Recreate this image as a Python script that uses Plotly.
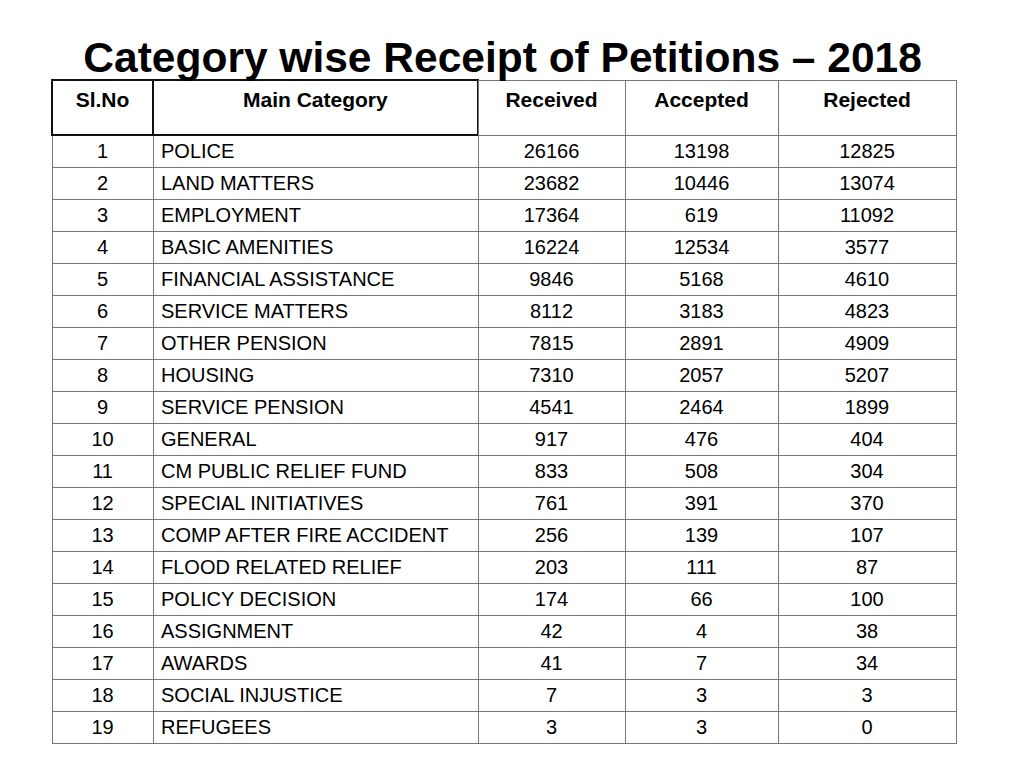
import plotly.graph_objects as go

SL_NO = list(range(1, 20))
CATEGORIES = [
    "POLICE", "LAND MATTERS", "EMPLOYMENT", "BASIC AMENITIES",
    "FINANCIAL ASSISTANCE", "SERVICE MATTERS", "OTHER PENSION", "HOUSING",
    "SERVICE PENSION", "GENERAL", "CM PUBLIC RELIEF FUND",
    "SPECIAL INITIATIVES", "COMP AFTER FIRE ACCIDENT", "FLOOD RELATED RELIEF",
    "POLICY DECISION", "ASSIGNMENT", "AWARDS", "SOCIAL INJUSTICE", "REFUGEES",
]
RECEIVED = [26166, 23682, 17364, 16224, 9846, 8112, 7815, 7310, 4541, 917,
            833, 761, 256, 203, 174, 42, 41, 7, 3]
ACCEPTED = [13198, 10446, 619, 12534, 5168, 3183, 2891, 2057, 2464, 476,
            508, 391, 139, 111, 66, 4, 7, 3, 3]
REJECTED = [12825, 13074, 11092, 3577, 4610, 4823, 4909, 5207, 1899, 404,
            304, 370, 107, 87, 100, 38, 34, 3, 0]
HEADERS = ["Sl.No", "Main Category", "Received", "Accepted", "Rejected"]

FONT = "Liberation Sans, Arial, Helvetica, sans-serif"
W, H = 1024, 768
OFF = 8  # page body margin

fig = go.Figure(go.Table(
    domain=dict(x=[(52 - OFF) / W, (956 - OFF) / W], y=[0, 1 - (80 - OFF) / H]),
    columnwidth=[101, 325, 147, 153, 178],
    header=dict(
        values=[f"<b>{h}</b>" for h in HEADERS],
        align="center",
        height=55,
        font=dict(family=FONT, size=21, color="black"),
        fill_color="white",
        line=dict(color=["#111", "#111", "#777", "#777", "#777"], width=[2, 2, 1, 1, 1]),
    ),
    cells=dict(
        values=[SL_NO, CATEGORIES, RECEIVED, ACCEPTED, REJECTED],
        align=["center", "left", "center", "center", "center"],
        height=32,
        font=dict(family=FONT, size=20, color="black"),
        fill_color="white",
        line=dict(color="#777", width=1),
    ),
))

fig.update_layout(
    width=W, height=H,
    title=dict(
        text="<b>Category wise Receipt of Petitions – 2018</b>",
        x=0.483, xanchor="center", y=1 - (57 - OFF) / H, yanchor="middle",
        font=dict(family=FONT, size=42.5, color="black"),
    ),
    margin=dict(l=0, r=0, t=0, b=0),
    paper_bgcolor="white",
)

fig.write_html("out.html")
